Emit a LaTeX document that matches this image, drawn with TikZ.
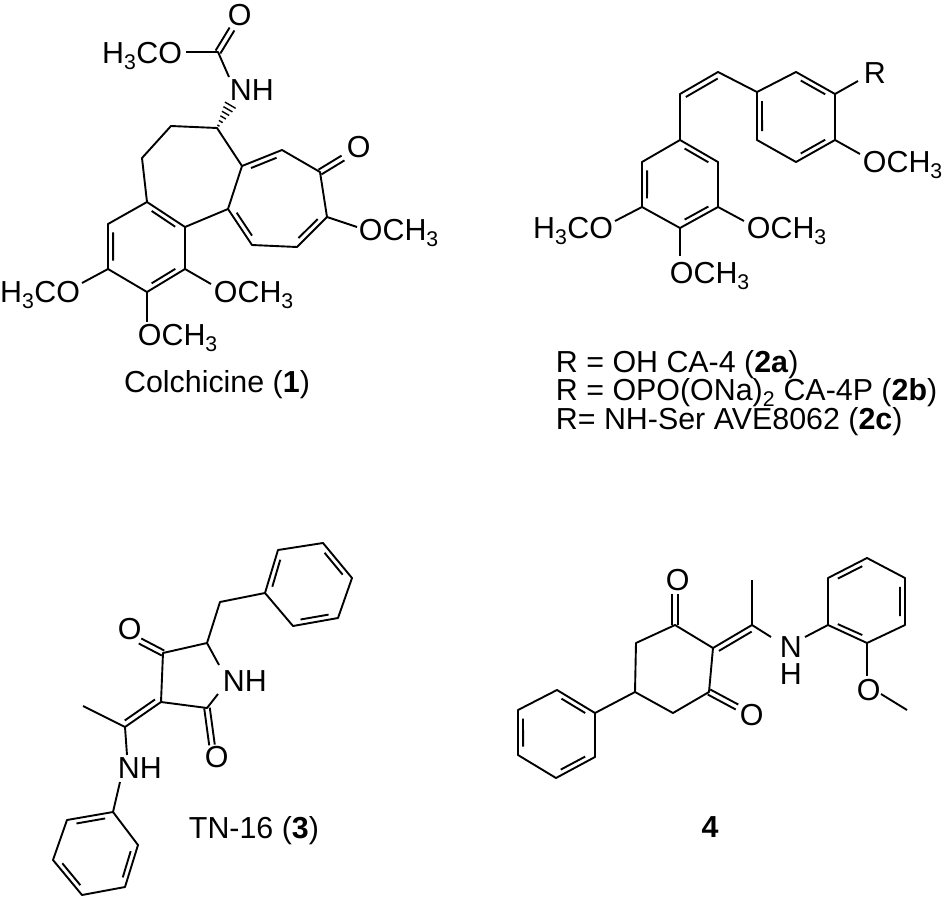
\documentclass[tikz,border=0pt]{standalone}
\usepackage{fontspec}
\setmainfont{Liberation Sans}
\usetikzlibrary{calc}
\newcommand\dbc[3]{\draw ($(#1)!0.14!(#2)!5.5bp!(#3)$) -- ($(#2)!0.14!(#1)!5.5bp!(#3)$);}
\newcommand\dbs[3]{\draw ($(#1)!0.08!(#2)!5.5bp!#3:(#2)$) -- ($(#2)!0.08!(#1)!5.5bp!-#3:(#1)$);}
\newcommand\dbp[2]{\draw ($(#1)!2.8bp!90:(#2)$) -- ($(#2)!2.8bp!-90:(#1)$); \draw ($(#1)!2.8bp!-90:(#2)$) -- ($(#2)!2.8bp!90:(#1)$);}
\begin{document}
\begin{tikzpicture}[x=1bp,y=-1bp,line width=1.9bp,line join=round,
  lbl/.style={inner sep=0pt,font=\fontsize{30.5}{34}\selectfont},
  bw/.style={lbl,anchor=base west}, be/.style={lbl,anchor=base east}, bc/.style={lbl,anchor=base}]
\useasboundingbox (0,0) rectangle (945,899);
% ---------------- Colchicine ----------------
\coordinate (cC) at (218,52); \coordinate (cO1) at (232,29); \coordinate (cOme) at (186,52); \coordinate (cN) at (229,77);
\coordinate (c7) at (217,128); \coordinate (c6) at (171,126); \coordinate (c5) at (142,158);
\coordinate (b1) at (147,202); \coordinate (b2) at (108,224); \coordinate (b3) at (108,269); \coordinate (b4) at (147,292); \coordinate (b5) at (185,269); \coordinate (b6) at (185,227); \coordinate (bc) at (147,247);
\coordinate (t1) at (242,166); \coordinate (t2) at (282,150); \coordinate (t3) at (320,172); \coordinate (t4) at (327,217); \coordinate (t5) at (297,247); \coordinate (t6) at (252,245); \coordinate (t7) at (228,209); \coordinate (tc) at (278,202);
\coordinate (cNw) at (231,104);
\node[bw] (lO1) at (227,25) {O};
\node[be] (lOme1) at (183,63) {H\textsubscript{3}CO};
\node[bw] (lNH1) at (229,100) {NH};
\node[bw] (lO2) at (346,157) {O};
\node[bw] (lOme2) at (358,240) {OCH\textsubscript{3}};
\node[be] (lOme3) at (81,302) {H\textsubscript{3}CO};
\node[bw] (lOme4) at (213,302) {OCH\textsubscript{3}};
\node[bw] (lOme5) at (137,345) {OCH\textsubscript{3}};
\node[bc] (name1) at (217,392) {Colchicine (\textbf{1})};
\dbp{cC}{cO1}
\draw (cOme) -- (cC) -- (cN);
\foreach \t/\w in {0.1/1.2,0.27/2.2,0.44/3.2,0.61/4.2,0.78/5.2,0.95/6.2}
  \draw[line width=1.4bp] ($(c7)!\t!(cNw)!\w bp!90:(cNw)$) -- ($(c7)!\t!(cNw)!\w bp!-90:(cNw)$);
\draw (b1) -- (b2) -- (b3) -- (b4) -- (b5) -- (b6) -- cycle;
\draw (b1) -- (c5) -- (c6) -- (c7) -- (t1) -- (t2) -- (t3) -- (t4) -- (t5) -- (t6) -- (t7) -- (t1);
\draw (t7) -- (b6);
\dbc{b1}{b6}{bc} \dbc{b2}{b3}{bc} \dbc{b4}{b5}{bc}
\dbc{t1}{t2}{tc} \dbc{t4}{t5}{tc} \dbc{t6}{t7}{tc}
\coordinate (cO2) at (343,158); \dbp{t3}{cO2}
\coordinate (e1) at (357,227); \draw (t4) -- (e1);
\coordinate (e2) at (82,283); \draw (b3) -- (e2);
\coordinate (e3) at (211,284); \draw (b5) -- (e3);
\coordinate (e4) at (147,322); \draw (b4) -- (e4);
% ---------------- CA-4 ----------------
\coordinate (a1) at (680,140); \coordinate (a2) at (718,162); \coordinate (a3) at (718,207); \coordinate (a4) at (680,228); \coordinate (a5) at (642,207); \coordinate (a6) at (642,162); \coordinate (ac) at (680,184);
\coordinate (v1) at (680,94); \coordinate (v2) at (718,72);
\coordinate (r1) at (757,92); \coordinate (r2) at (796,72); \coordinate (r3) at (835,94); \coordinate (r4) at (835,140); \coordinate (r5) at (796,162); \coordinate (r6) at (757,140); \coordinate (rc) at (796,117);
\draw (a1) -- (a2) -- (a3) -- (a4) -- (a5) -- (a6) -- cycle;
\dbc{a1}{a2}{ac} \dbc{a5}{a6}{ac} \dbc{a3}{a4}{ac}
\draw (a1) -- (v1) -- (v2) -- (r1);
\dbs{v1}{v2}{-90}
\draw (r1) -- (r2) -- (r3) -- (r4) -- (r5) -- (r6) -- cycle;
\dbc{r1}{r6}{rc} \dbc{r2}{r3}{rc} \dbc{r4}{r5}{rc}
\node[bw] (lR) at (863,83) {R};
\node[bw] (lOme6) at (862,172) {OCH\textsubscript{3}};
\node[be] (lOme7) at (614,238) {H\textsubscript{3}CO};
\node[bw] (lOme8) at (746,238) {OCH\textsubscript{3}};
\node[bw] (lOme9) at (669,283) {OCH\textsubscript{3}};
\coordinate (f1) at (858,81); \draw (r3) -- (f1);
\coordinate (f2) at (860,154); \draw (r4) -- (f2);
\coordinate (f3) at (615,221); \draw (a5) -- (f3);
\coordinate (f4) at (744,221); \draw (a3) -- (f4);
\coordinate (f5) at (680,256); \draw (a4) -- (f5);
\node[bw] (t2a) at (555,372) {R = OH CA-4 (\textbf{2a})};
\node[bw] (t2b) at (555,400) {R = OPO(ONa)\textsubscript{2} CA-4P (\textbf{2b})};
\node[bw] (t2c) at (555,429) {R= NH-Ser AVE8062 (\textbf{2c})};
% ---------------- TN-16 ----------------
\coordinate (p4) at (163,653); \coordinate (p5) at (207,643); \coordinate (pN1) at (219,665); \coordinate (pN2) at (218,694); \coordinate (p2) at (207,708); \coordinate (p3) at (161,702);
\coordinate (px) at (125,727); \coordinate (pm) at (83,706);
\coordinate (pNa) at (127,755); \coordinate (pNb) at (120,782);
\coordinate (q1) at (113,812); \coordinate (q2) at (138,845); \coordinate (q3) at (125,887); \coordinate (q4) at (82,895); \coordinate (q5) at (53,860); \coordinate (q6) at (67,820); \coordinate (qc) at (96,853);
\coordinate (pch) at (220,602);
\coordinate (s1) at (265,593); \coordinate (s2) at (278,550); \coordinate (s3) at (323,543); \coordinate (s4) at (352,578); \coordinate (s5) at (338,618); \coordinate (s6) at (293,626); \coordinate (sc) at (308,585);
\node[bw] (lO3) at (117,639) {O};
\node[bw] (lNH2) at (222,691) {NH};
\node[bw] (lO4) at (204,767) {O};
\node[bw] (lNH3) at (117,778) {NH};
\node[bw] (name3) at (188,838) {TN-16 (\textbf{3})};
\draw (p3) -- (p4) -- (p5) -- (pN1);
\draw (pN2) -- (p2) -- (p3) -- (px) -- (pm);
\draw (px) -- (pNa);
\draw (pNb) -- (q1);
\dbs{p3}{px}{-90}
\coordinate (pO1) at (140,641); \dbp{p4}{pO1}
\coordinate (pO2) at (212,745); \dbp{p2}{pO2}
\draw (q1) -- (q2) -- (q3) -- (q4) -- (q5) -- (q6) -- cycle;
\dbc{q1}{q6}{qc} \dbc{q2}{q3}{qc} \dbc{q4}{q5}{qc}
\draw (p5) -- (pch) -- (s1);
\draw (s1) -- (s2) -- (s3) -- (s4) -- (s5) -- (s6) -- cycle;
\dbc{s1}{s2}{sc} \dbc{s3}{s4}{sc} \dbc{s5}{s6}{sc}
% ---------------- Compound 4 ----------------
\coordinate (k1) at (675,625); \coordinate (k2) at (713,648); \coordinate (k3) at (709,692); \coordinate (k4) at (673,713); \coordinate (k5) at (635,692); \coordinate (k6) at (636,643);
\coordinate (kx) at (752,625); \coordinate (km) at (752,580);
\coordinate (kNa) at (771,637); \coordinate (kNb) at (805,637);
\coordinate (g1) at (828,625); \coordinate (g2) at (828,578); \coordinate (g3) at (867,558); \coordinate (g4) at (905,578); \coordinate (g5) at (905,625); \coordinate (g6) at (867,643); \coordinate (gc) at (867,601);
\coordinate (gO) at (867,676); \coordinate (gOb) at (881,694); \coordinate (gm) at (907,710);
\coordinate (h1) at (595,713); \coordinate (h2) at (557,690); \coordinate (h3) at (518,710); \coordinate (h4) at (518,755); \coordinate (h5) at (556,778); \coordinate (h6) at (595,757); \coordinate (hc) at (556,734);
\node[bw] (lO5) at (665,590) {O};
\node[bw] (lO6) at (739,725) {O};
\node[bw] (lN4) at (779,657) {N};
\node[bw] (lH4) at (779,684) {H};
\node[bw] (lO7) at (856,700) {O};
\node[bc] (name4) at (710,837) {\textbf{4}};
\draw (k1) -- (k2) -- (k3) -- (k4) -- (k5) -- (k6) -- cycle;
\coordinate (kO1) at (675,594); \dbp{k1}{kO1}
\coordinate (kO2) at (737,707); \dbp{k3}{kO2}
\draw (k2) -- (kx) -- (km);
\dbs{k2}{kx}{-90}
\draw (kx) -- (kNa);
\draw (kNb) -- (g1);
\draw (g1) -- (g2) -- (g3) -- (g4) -- (g5) -- (g6) -- cycle;
\dbc{g2}{g3}{gc} \dbc{g4}{g5}{gc} \dbc{g1}{g6}{gc}
\draw (g6) -- (gO); \draw (gOb) -- (gm);
\draw (k5) -- (h1);
\draw (h1) -- (h2) -- (h3) -- (h4) -- (h5) -- (h6) -- cycle;
\dbc{h1}{h2}{hc} \dbc{h3}{h4}{hc} \dbc{h5}{h6}{hc}
\end{tikzpicture}
\end{document}
